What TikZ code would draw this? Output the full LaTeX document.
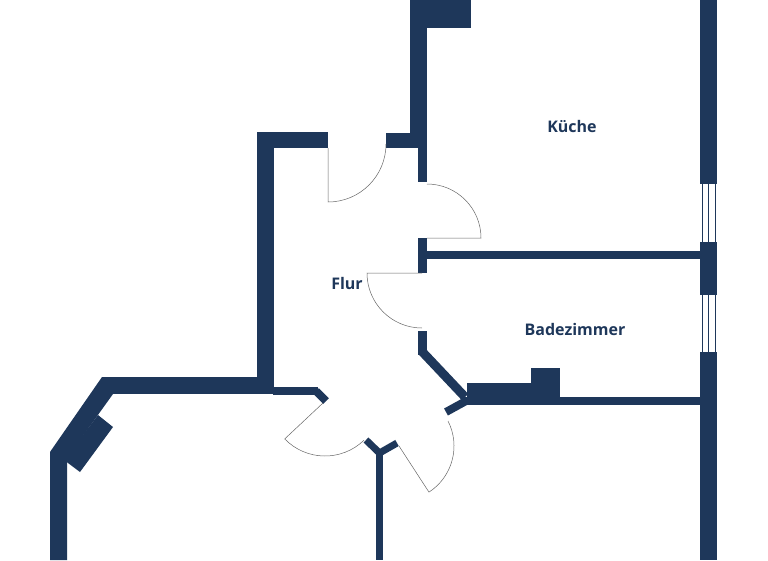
\documentclass[tikz,border=0pt]{standalone}
\usepackage{fontspec}
\setmainfont{Open Sans}
\definecolor{wall}{RGB}{30,55,90}
\begin{document}
\begin{tikzpicture}[x=1pt,y=-1pt,
  wallf/.style={fill=wall},
  wl/.style={draw=wall,line cap=butt},
  door/.style={draw=black!60,line width=0.5pt},
  win/.style={draw=wall,line width=0.6pt},
  lbl/.style={text=wall,font=\fontsize{16}{18}\selectfont\bfseries}]
\useasboundingbox (0,0) rectangle (768,560);
% kitchen left wall + chimney
\fill[wallf] (410,0) rectangle (427,148);
\fill[wallf] (386,133) rectangle (427,148);
\fill[wallf] (418,148) rectangle (427,182);
\fill[wallf] (427,0) rectangle (471,28);
\fill[wallf] (418,238) rectangle (427,273);
% kitchen/bath wall
\fill[wallf] (427,251) rectangle (702,259);
% right wall
\fill[wallf] (700,0) rectangle (717,184);
\fill[wallf] (700,242) rectangle (717,295);
\fill[wallf] (700,352) rectangle (717,560);
\foreach \a/\b in {184/242,295/352}{
  \draw[win] (702,\a) -- (702,\b) (715,\a) -- (715,\b);
  \draw[win] (708.5,\a) -- (708.5,\b);
}
% bath wall + diagonal
\fill[wallf] (418,331) rectangle (427,355);
\draw[wl,line width=9pt] (422.5,352) -- (465,397);
\fill[wallf] (463,397) rectangle (702,405);
\fill[wallf] (467,383) rectangle (560,397);
\fill[wallf] (531,368) rectangle (560,383);
\draw[wl,line width=8pt] (466,401) -- (446,412);
% Flur walls
\fill[wallf] (257,132) rectangle (328,148);
\fill[wallf] (257,132) rectangle (274,387);
% lower left room
\fill[wallf] (102,377) rectangle (274,394);
\fill[wallf] (273,387) rectangle (318,395);
\draw[wl,line width=8pt] (316,391) -- (326,401);
\fill[wallf] (102,377) -- (113,394) -- (67,458) -- (67,560) -- (50,560) -- (50,452) -- cycle;
\fill[wallf] (98,415) -- (113,427) -- (80,472) -- (64,460) -- cycle;
% junction
\fill[wallf] (376,452) rectangle (383,560);
\draw[wl,line width=7pt] (366,440) -- (379.5,453) -- (397,443);
% doors
\draw[door] (328,148) -- (328,202) arc[start angle=90,end angle=0,radius=58];
\draw[door] (427,238) -- (481,238) arc[start angle=0,end angle=-90,radius=54];
\draw[door] (422,273) -- (367,273) arc[start angle=180,end angle=90,radius=55];
\draw[door] (325,400) ++(46:56) arc[start angle=46,end angle=136,radius=56] -- (323,403);
\draw[door] (399,446) -- ++(57:55) arc[start angle=57,end angle=-27,radius=55];
% labels
\node[lbl] (kueche) at (572,126) {Küche};
\node[lbl] (flur) at (347,283) {Flur};
\node[lbl] (bad) at (575,329) {Badezimmer};
\end{tikzpicture}
\end{document}
